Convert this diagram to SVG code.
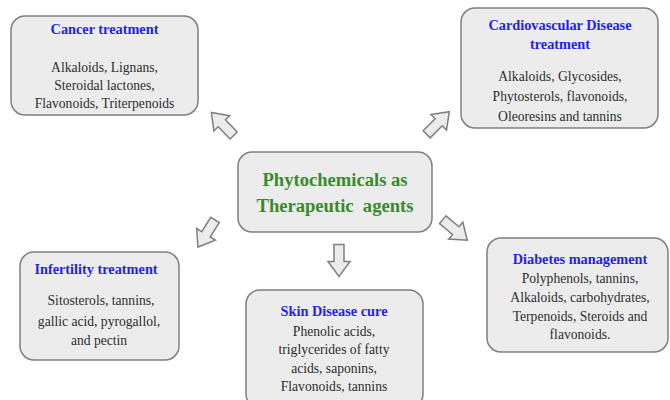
<svg xmlns="http://www.w3.org/2000/svg" width="670" height="400" viewBox="0 0 670 400">
<defs>
<style>
.box{fill:#ececec;stroke:#7f7f7f;stroke-width:1.5}
.t{font-family:"Liberation Serif","Times New Roman",serif;font-size:13.6px;text-anchor:middle}
.title{fill:#1f1ff5;font-weight:bold;font-size:14.3px}
.body{fill:#2e2e2e}
.main{font-family:"Liberation Serif","Times New Roman",serif;font-size:18.6px;font-weight:bold;fill:#3a8a2c;text-anchor:middle}
.arr{fill:#ececec;stroke:#7f7f7f;stroke-width:1.5;stroke-linejoin:miter}
</style>
<path id="arrow" d="M-16,-5 L1,-5 L1,-11 L16,0 L1,11 L1,5 L-16,5 Z"/>
</defs>
<rect width="670" height="400" fill="#ffffff"/>
<g id="connectors">
<use href="#arrow" class="arr" transform="translate(222.5,124) rotate(-134)"/>
<use href="#arrow" class="arr" transform="translate(438,123) rotate(-45)"/>
<use href="#arrow" class="arr" transform="translate(206.5,233.5) rotate(122)"/>
<use href="#arrow" class="arr" transform="translate(455,230) rotate(40)"/>
<use href="#arrow" class="arr" transform="translate(339,260.5) rotate(90)"/>
</g>
<g id="center">
<rect class="box" x="238" y="152" width="194" height="80" rx="14"/>
<text class="main" x="335" y="186">Phytochemicals as</text>
<text class="main" x="335" y="212" xml:space="preserve">Therapeutic  agents</text>
</g>
<g id="cancer">
<rect class="box" x="11" y="16" width="187" height="99" rx="14"/>
<text class="t title" x="104.5" y="34">Cancer treatment</text>
<text class="t body" x="104.5" y="72">Alkaloids, Lignans,</text>
<text class="t body" x="104.5" y="90">Steroidal lactones,</text>
<text class="t body" x="104.5" y="108">Flavonoids, Triterpenoids</text>
</g>
<g id="cardio">
<rect class="box" x="461" y="8" width="197" height="120" rx="14"/>
<text class="t title" x="560" y="30">Cardiovascular Disease</text>
<text class="t title" x="560" y="49">treatment</text>
<text class="t body" x="560" y="81">Alkaloids, Glycosides,</text>
<text class="t body" x="560" y="101">Phytosterols, flavonoids,</text>
<text class="t body" x="560" y="121">Oleoresins and tannins</text>
</g>
<g id="infertility">
<rect class="box" x="20" y="252" width="159" height="108" rx="14"/>
<text class="t title" x="96" y="274">Infertility treatment</text>
<text class="t body" x="101" y="305">Sitosterols, tannins,</text>
<text class="t body" x="99" y="326">gallic acid, pyrogallol,</text>
<text class="t body" x="99" y="345">and pectin</text>
</g>
<g id="skin">
<rect class="box" x="246" y="290" width="177" height="118" rx="14"/>
<text class="t title" x="334" y="316">Skin Disease cure</text>
<text class="t body" x="334" y="336">Phenolic acids,</text>
<text class="t body" x="334" y="354">triglycerides of fatty</text>
<text class="t body" x="334" y="373">acids, saponins,</text>
<text class="t body" x="334" y="391">Flavonoids, tannins</text>
</g>
<g id="diabetes">
<rect class="box" x="487" y="238" width="181" height="114" rx="14"/>
<text class="t title" x="580" y="264">Diabetes management</text>
<text class="t body" x="580" y="283">Polyphenols, tannins,</text>
<text class="t body" x="580" y="302">Alkaloids, carbohydrates,</text>
<text class="t body" x="580" y="321">Terpenoids, Steroids and</text>
<text class="t body" x="580" y="339">flavonoids.</text>
</g>
</svg>
